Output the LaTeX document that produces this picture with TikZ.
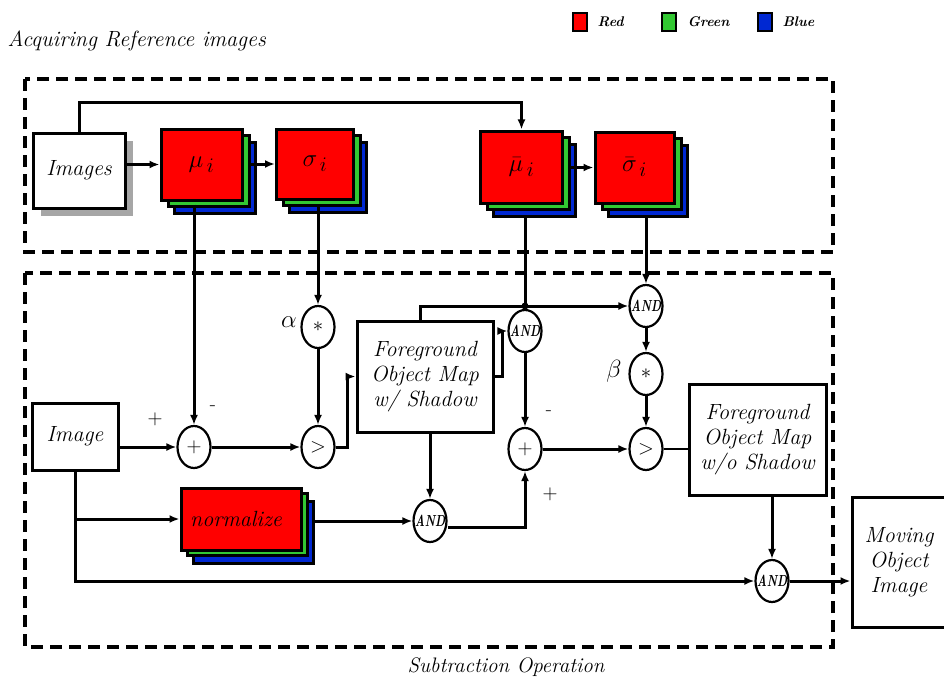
\documentclass[tikz,border=0pt]{standalone}
\usetikzlibrary{arrows.meta,shapes.geometric}
\definecolor{myred}{RGB}{255,0,0}
\definecolor{mygreen}{RGB}{50,200,50}
\definecolor{myblue}{RGB}{0,40,210}
\newcommand{\rgbstack}[6]{%
  \node[layer, fill=myblue, minimum width=#4pt, minimum height=#5pt] (#1b) at (#2+13,#3+13) {};
  \node[layer, fill=mygreen, minimum width=#4pt, minimum height=#5pt] (#1g) at (#2+7,#3+6) {};
  \node[layer, fill=myred, minimum width=#4pt, minimum height=#5pt, font=\fontsize{30}{32}\selectfont] (#1) at (#2,#3) {#6};
}
\newcommand{\andtxt}{\makebox[0pt]{\scalebox{0.72}[1]{AND}}}
\tikzset{
  conn/.style={line width=3pt, -{Latex[length=10pt,width=8pt]}},
  plain/.style={line width=3pt},
  op/.style={ellipse, draw, line width=2.2pt, minimum width=33pt, minimum height=42pt, inner sep=0pt, fill=white, font=\fontsize{22}{22}\selectfont},
  andop/.style={op, font=\fontsize{16}{16}\selectfont\itshape\bfseries},
  wbox/.style={draw, line width=3pt, fill=white, align=center, inner sep=2pt, font=\fontsize{22}{25}\selectfont\itshape},
  layer/.style={draw, line width=3pt, inner sep=0pt},
  dbox/.style={draw, line width=4pt, dash pattern=on 12pt off 7pt},
  lbl/.style={font=\fontsize{20}{22}\selectfont},
  leg/.style={draw, line width=1.8pt, minimum width=14pt, minimum height=18pt, inner sep=0pt},
  legt/.style={font=\fontsize{14}{16}\selectfont\itshape\bfseries, anchor=west},
}
\begin{document}
\begin{tikzpicture}[x=1pt,y=-1pt]
\useasboundingbox (0,0) rectangle (944,682);
\begin{scope}
\clip (0,0) rectangle (944,682);

% legend
\node[leg, fill=myred] (lr) at (580,22) {};
\node[legt] (lrt) at (594,22) {Red};
\node[leg, fill=mygreen] (lg) at (669,22) {};
\node[legt] (lgt) at (684,22) {Green};
\node[leg, fill=myblue] (lb) at (765,22) {};
\node[legt] (lbt) at (779,22) {Blue};

\node[anchor=west, font=\fontsize{22}{25}\selectfont\itshape] (acq) at (4,41) {Acquiring Reference images};
\node[font=\fontsize{21}{24}\selectfont\itshape] (sub) at (506,667) {Subtraction Operation};

% dashed regions
\draw[dbox] (25,79) rectangle (833,252);
\draw[dbox] (25,273) rectangle (833,647);

% top row
\fill[gray!70] (41,141) rectangle (133,216);
\node[wbox, minimum width=92pt, minimum height=75pt] (images) at (79,170.5) {Images};
\rgbstack{mu}{201.5}{164.5}{81}{71}{$\mu_{\,i}$}
\rgbstack{sig}{315}{164}{77}{70}{$\sigma_{\,i}$}
\rgbstack{mub}{521.5}{167}{82}{72}{$\bar{\mu}_{\,i}$}
\rgbstack{sigb}{634.5}{167.5}{79}{71}{$\bar{\sigma}_{\,i}$}

\draw[conn] (images.east |- mu.west) -- (mu.west);
\draw[conn] (mug.east |- sig.west) -- (sig.west);
\draw[conn] (mubg.east |- sigb.west) -- (sigb.west);
\draw[conn] (images.north) -- ++(0,-29) -| (mub.north);

% lower part
\node[wbox, minimum width=86pt, minimum height=67pt] (image) at (75,436.5) {Image};
\node[wbox, minimum width=136pt, minimum height=111pt] (fg1) at (425,376.5) {Foreground\\Object Map\\w/ Shadow};
\node[wbox, minimum width=137pt, minimum height=111pt] (fg2) at (757.5,439.5) {Foreground\\Object Map\\w/o Shadow};
\node[wbox, minimum width=110pt, minimum height=130pt, text width=92pt] (moi) at (907,562) {\hspace*{-16pt}Moving\\\hspace*{-16pt}Object\\\hspace*{-16pt}Image};

\node[op] (star1) at (318,327) {$*$};
\node[op] (plus1) at (194,447) {$+$};
\node[op] (gt1) at (318,447) {$>$};
\node[andop] (and1) at (525,331) {\andtxt};
\node[andop] (and2) at (646,306) {\andtxt};
\node[op] (star2) at (646,374) {$*$};
\node[op] (plus2) at (525,449) {$+$};
\node[op] (gt2) at (646,449) {$>$};
\node[andop] (and3) at (430,521) {\andtxt};
\node[andop] (and4) at (772,581) {\andtxt};

\node[layer, fill=myblue, minimum width=120pt, minimum height=62pt] (normb) at (253.5,532) {};
\node[layer, fill=mygreen, minimum width=120pt, minimum height=62pt] (normg) at (247.5,524) {};
\node[layer, fill=myred, minimum width=120pt, minimum height=62pt, font=\fontsize{22}{24}\selectfont\itshape] (norm) at (241,519) {\hspace*{-10pt}normalize};

\node[lbl] (lp1) at (155,419) {$+$};
\node[lbl] (lm1) at (213,408) {-};
\node[font=\fontsize{26}{28}\selectfont] (alpha) at (289,322) {$\alpha$};
\node[lbl] (lm2) at (549,413) {-};
\node[lbl] (lp2) at (550,494) {$+$};
\node[font=\fontsize{26}{28}\selectfont] (beta) at (614,371) {$\beta$};

% connectors
\draw[conn] (plus1.north |- mub.south) -- (plus1.north);
\draw[conn] (star1.north |- sigb.south) -- (star1.north);
\draw[conn] (image.east |- plus1.west) -- (plus1.west);
\draw[conn] (plus1.east) -- (gt1.west);
\draw[conn] (star1.south) -- (gt1.north);
\draw[conn] (gt1.east) -- ++(12,0) |- (fg1.west);
\draw[conn] ([xshift=-5pt]fg1.north) |- (and2.west);
\draw[plain] (and1.north |- mubb.south) -- (and1.north);
\fill (and1.north |- and2.west) circle (3.5pt);
\draw[conn] (fg1.east) -- ++(8,0) |- (and1.west);
\draw[conn] (and2.north |- sigbb.south) -- (and2.north);
\draw[conn] (and2.south) -- (star2.north);
\draw[conn] (star2.south) -- (gt2.north);
\draw[conn] (and1.south) -- (plus2.north);
\draw[conn] (plus2.east) -- (gt2.west);
\draw[line width=1.8pt] (gt2.east) -- (fg2.west |- gt2.east);
\draw[conn] (fg2.south -| and4.north) -- (and4.north);
\draw[conn] (image.south) |- (and4.west);
\draw[conn] (image.south |- norm.west) -- (norm.west);
\draw[conn] (normb.east |- and3.west) -- (and3.west);
\draw[conn] (fg1.south -| and3.north) -- (and3.north);
\draw[conn] (and3.east) ++(0,6) -| (plus2.south);
\draw[conn] (and4.east) -- (moi.west |- and4.east);
\end{scope}
\end{tikzpicture}
\end{document}
